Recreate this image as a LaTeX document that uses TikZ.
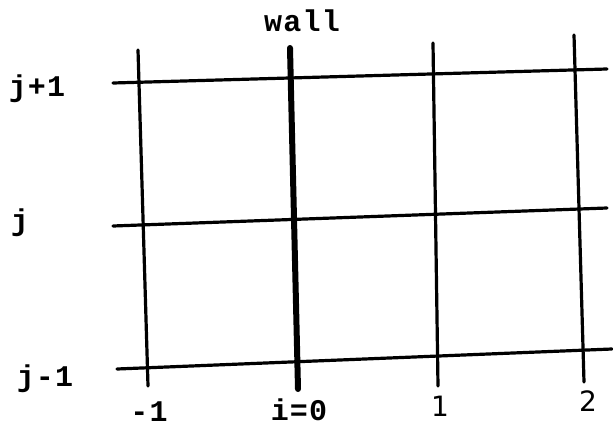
\documentclass[tikz,border=0pt]{standalone}
\usepackage{fontspec}
\newfontfamily\twfont[LetterSpace=4]{Liberation Mono Bold}
\newfontfamily\digfont{DejaVu Sans}
\begin{document}
\begin{tikzpicture}[x=1pt,y=-1pt,
  gridline/.style={line width=3.2pt,line cap=round},
  wallline/.style={line width=6pt,line cap=round},
  twlabel/.style={anchor=base,inner sep=0pt,font=\twfont\fontsize{30}{30}\selectfont},
  diglabel/.style={anchor=base,inner sep=0pt,font=\digfont\fontsize{28}{28}\selectfont}]
\useasboundingbox[fill=white] (0,0) rectangle (613,428);
% horizontal line ends
\coordinate (h1l) at (113,83);  \coordinate (h1r) at (607,69);
\coordinate (h2l) at (113,226); \coordinate (h2r) at (607,208);
\coordinate (h3l) at (117,369); \coordinate (h3r) at (612,349);
% vertical line ends
\coordinate (vat) at (138,50);  \coordinate (vab) at (148,386);
\coordinate (vbt) at (290,48);  \coordinate (vbb) at (298,389);
\coordinate (vct) at (433,43);  \coordinate (vcb) at (438,386);
\coordinate (vdt) at (574,35);  \coordinate (vdb) at (584,382);
\draw[gridline] (h1l) -- (h1r);
\draw[gridline] (h2l) -- (h2r);
\draw[gridline] (h3l) -- (h3r);
\draw[gridline] (vat) -- (vab);
\draw[wallline] (vbt) -- (vbb);
\draw[gridline] (vct) -- (vcb);
\draw[gridline] (vdt) -- (vdb);
% labels
\node[twlabel] (wall) at (302,32) {wall};
\node[twlabel] (jp) at (37,96) {j+1};
\node[twlabel] (j) at (20,230) {j};
\node[twlabel] (jm) at (45,386) {j-1};
\node[twlabel] (im) at (149,421) {-1};
\node[twlabel] (i0) at (299,420) {i=0};
\node[diglabel] (i1) at (440,416) {1};
\node[diglabel] (i2) at (588,411) {2};
\end{tikzpicture}
\end{document}
